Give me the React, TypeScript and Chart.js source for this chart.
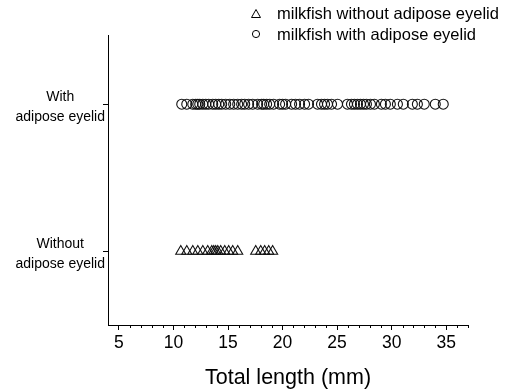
import React, { useEffect, useRef } from 'react';
import { Chart, registerables } from 'chart.js';

Chart.register(...registerables);

const FONT = "'Liberation Sans', Arial, Helvetica, sans-serif";

// Series names (legend)
const seriesNames = ['milkfish without adipose eyelid', 'milkfish with adipose eyelid'];

// Category labels on the y axis (value 1 = without, value 2 = with)
const groupWithout = ['Without', 'adipose eyelid'];
const groupWith = ['With', 'adipose eyelid'];

// Total length (mm) of milkfish without adipose eyelid
const withoutEyelid = [
  10.67, 11.22, 11.77, 12.23, 12.69, 13.14, 13.51, 13.69, 13.87, 14.06,
  14.33, 14.7, 15.06, 15.43, 15.89, 17.54, 18.0, 18.36, 18.73, 19.09,
];

// Total length (mm) of milkfish with adipose eyelid
const withEyelid = [
  10.76, 11.22, 11.77, 12.04, 12.23, 12.41, 12.69, 12.96, 13.23, 13.6,
  13.87, 14.15, 14.42, 14.79, 15.16, 15.52, 15.89, 16.25, 16.53, 16.89,
  17.26, 17.72, 18.08, 18.27, 18.54, 18.82, 19.18, 19.73, 20.0, 20.28,
  20.83, 21.19, 21.56, 22.02, 22.38, 23.21, 23.57, 23.85, 24.12, 24.49,
  25.04, 25.95, 26.32, 26.59, 26.87, 27.14, 27.42, 27.69, 28.06, 28.42,
  29.06, 29.43, 29.88, 30.53, 31.07, 31.9, 32.36, 32.99, 34.0, 34.73,
];

// X axis
const xMin = 4;
const xMax = 37;
const xMajorStep = 5;
const xTitle = 'Total length (mm)';

const legendPlugin = {
  id: 'customLegend',
  afterDraw(chart: any) {
    const ctx = chart.ctx;
    ctx.save();
    ctx.strokeStyle = '#000';
    ctx.lineWidth = 1;
    // triangle
    ctx.beginPath();
    ctx.moveTo(251.5, 17.5);
    ctx.lineTo(260.5, 17.5);
    ctx.lineTo(256, 9.5);
    ctx.closePath();
    ctx.stroke();
    // circle
    ctx.beginPath();
    ctx.arc(256, 34, 3.6, 0, Math.PI * 2);
    ctx.stroke();
    ctx.fillStyle = '#000';
    ctx.font = `16.5px ${FONT}`;
    ctx.textAlign = 'left';
    ctx.textBaseline = 'middle';
    ctx.fillText(seriesNames[0], 277, 14);
    ctx.fillText(seriesNames[1], 277, 35);
    ctx.restore();
  },
};

const minorTickPlugin = {
  id: 'minorTicks',
  afterDraw(chart: any) {
    const scale = chart.scales.x;
    const ctx = chart.ctx;
    const y0 = chart.chartArea.bottom;
    ctx.save();
    ctx.strokeStyle = '#000';
    ctx.lineWidth = 1;
    for (let v = xMin + 1; v <= xMax; v++) {
      if (v % xMajorStep === 0) continue;
      const x = Math.round(scale.getPixelForValue(v)) + 0.5;
      ctx.beginPath();
      ctx.moveTo(x, y0);
      ctx.lineTo(x, y0 + 3);
      ctx.stroke();
    }
    ctx.restore();
  },
};

export default function App() {
  const ref = useRef<HTMLCanvasElement | null>(null);

  useEffect(() => {
    if (!ref.current) return;
    const chart = new Chart(ref.current, {
      type: 'scatter',
      data: {
        datasets: [
          {
            label: seriesNames[0],
            data: withoutEyelid.map((v) => ({ x: v, y: 1 })),
            pointStyle: 'triangle',
            pointRadius: 5.8,
            borderColor: '#111',
            backgroundColor: 'rgba(0,0,0,0)',
            borderWidth: 1.1,
          },
          {
            label: seriesNames[1],
            data: withEyelid.map((v) => ({ x: v, y: 2 })),
            pointStyle: 'circle',
            pointRadius: 5,
            borderColor: '#111',
            backgroundColor: 'rgba(0,0,0,0)',
            borderWidth: 1.1,
          },
        ],
      },
      options: {
        responsive: false,
        animation: false,
        layout: { padding: { top: 35, right: 40, left: 0, bottom: 0 } },
        plugins: {
          legend: { display: false },
          tooltip: { enabled: false },
        },
        scales: {
          x: {
            type: 'linear',
            min: xMin,
            max: xMax,
            afterFit: (s: any) => {
              s.height = 64;
            },
            border: { display: true, color: '#000', width: 1 },
            grid: {
              drawOnChartArea: false,
              drawTicks: true,
              tickLength: 5,
              tickColor: (c: any) =>
                c.tick && c.tick.value % xMajorStep === 0 ? '#000' : 'rgba(0,0,0,0)',
            },
            ticks: {
              stepSize: 1,
              autoSkip: false,
              maxRotation: 0,
              padding: 3,
              color: '#000',
              font: { family: FONT, size: 17.5 },
              callback: (v: any) => (Number(v) % xMajorStep === 0 ? String(v) : ''),
            },
            title: {
              display: true,
              text: xTitle,
              color: '#000',
              font: { family: FONT, size: 21.5 },
              padding: { top: 0, bottom: -2 },
            },
          },
          y: {
            type: 'linear',
            min: 0.5,
            max: 2.47,
            afterFit: (s: any) => {
              s.width = 108;
            },
            afterBuildTicks: (s: any) => {
              s.ticks = [{ value: 1 }, { value: 2 }];
            },
            border: { display: true, color: '#000', width: 1 },
            grid: {
              drawOnChartArea: false,
              drawTicks: true,
              tickLength: 5,
              tickColor: '#000',
            },
            ticks: {
              autoSkip: false,
              padding: -2,
              labelOffset: 3,
              crossAlign: 'center',
              color: '#000',
              font: { family: FONT, size: 14, lineHeight: 1.43 },
              callback: (v: any) => (Number(v) === 2 ? groupWith : Number(v) === 1 ? groupWithout : ''),
            },
          },
        },
      },
      plugins: [legendPlugin, minorTickPlugin],
    });
    return () => chart.destroy();
  }, []);

  return (
    <div style={{ position: 'fixed', left: 0, top: 0, width: 508, height: 389, background: '#fff' }}>
      <canvas ref={ref} width={508} height={389} style={{ display: 'block' }} />
    </div>
  );
}
